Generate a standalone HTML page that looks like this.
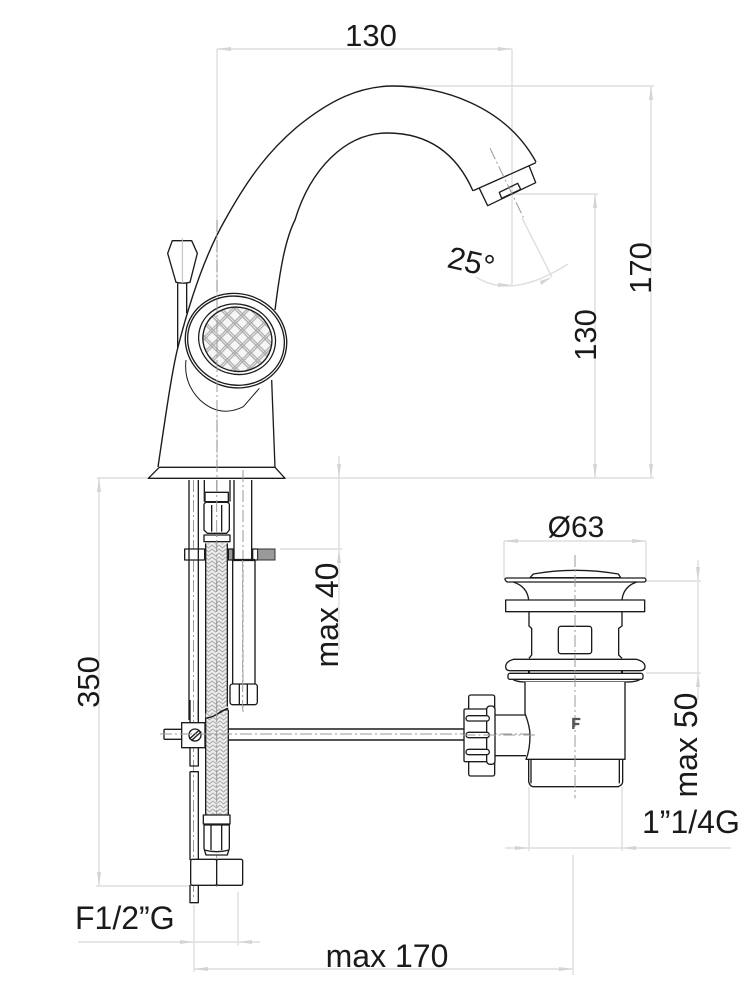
<!DOCTYPE html>
<html><head><meta charset="utf-8"><style>
html,body{margin:0;padding:0;background:#fff}
svg{display:block}
text{font-family:"Liberation Sans",sans-serif;font-size:32px;fill:#1a1a1a}
.d{stroke:#dedede;stroke-width:1.4;fill:none}
.a{fill:#d4d4d4;stroke:none}
.c{stroke:#999;stroke-width:1;fill:none;stroke-dasharray:12 3 2 3}
.k{stroke:#1c1c1c;stroke-width:1.4;fill:none}
.z{stroke:#1c1c1c;stroke-width:4;fill:none;stroke-linejoin:round}
.zw{stroke:#1c1c1c;stroke-width:4;fill:#fff;stroke-linejoin:round}
.zc{stroke:#999;stroke-width:3;fill:none;stroke-dasharray:36 9 6 9}
</style></head><body>
<svg width="753" height="1000" viewBox="0 0 753 1000" xmlns="http://www.w3.org/2000/svg">
<defs>
<pattern id="mesh" width="32" height="32" patternUnits="userSpaceOnUse" patternTransform="rotate(30)">
<rect width="32" height="32" fill="#f6f6f6"/>
<path d="M0 3H32M0 9H32M3 0V32M9 0V32" stroke="#aaa" stroke-width="3.5"/>
</pattern>
<pattern id="braid" width="21" height="24" patternUnits="userSpaceOnUse">
<rect width="21" height="24" fill="#efefef"/>
<path d="M0 3L10.500 12L21 3M0 15L10.500 24L21 15M0 -9L10.500 0L21 -9" stroke="#b0b0b0" stroke-width="3.500" fill="none"/>
</pattern>
</defs>

<!-- dimension lines -->
<path class="d" d="M217 49V478M217 49H512M512 49V285M393 86H654M651 86V478M512 194H598M595 194V478M97 478H654
M99 478V886M96 886H190M339 456V650M280 549H342
M504 541H646M504 541V578M646 541V578M646 581H701M646 673H701M698 560V673M698 673V700
M529 787V851M622 787V851M505 848H731M573 855V975M194 905V972M194 969H573M78 942H260M238 892V946"/>
<path class="d" d="M476 277Q512 300 568 264M522 218L552 277"/>
<polygon class="a" points="217,49 231,47 231,51"/><polygon class="a" points="512,49 498,47 498,51"/>
<polygon class="a" points="651,86 649,100 653,100"/><polygon class="a" points="651,478 649,464 653,464"/>
<polygon class="a" points="595,194 593,208 597,208"/><polygon class="a" points="595,478 593,464 597,464"/>
<polygon class="a" points="99,478 97,492 101,492"/><polygon class="a" points="99,886 97,872 101,872"/>
<polygon class="a" points="339,478 337,464 341,464"/><polygon class="a" points="339,549 337,563 341,563"/>
<polygon class="a" points="504,541 518,539 518,543"/><polygon class="a" points="646,541 632,539 632,543"/>
<polygon class="a" points="698,581 696,567 700,567"/><polygon class="a" points="698,673 696,687 700,687"/>
<polygon class="a" points="529,848 515,846 515,850"/><polygon class="a" points="622,848 636,846 636,850"/>
<polygon class="a" points="194,942 180,940 180,944"/><polygon class="a" points="238,942 252,940 252,944"/>
<polygon class="a" points="194,969 208,967 208,971"/><polygon class="a" points="573,969 559,967 559,971"/>
<polygon class="a" points="512,285 498,283 498,287"/><polygon class="a" points="552,277 540,281 541,285"/>

<!-- spout -->
<path class="k" d="M158 467C165 420 172 370 178 347C190 300 205 255 225 220C250 175 270 150 297 127C330 100 360 86 393 86C440 86 505 105 536 162"/>
<path class="k" d="M275 310C280 270 285 240 295 220C310 170 345 133 387 133C425 133 455 150 473 191"/>
<g transform="translate(420 120) scale(.33333)">
<path class="z" d="M160 212L348 128M178 205L203 257L347 188L327 137M238 217L245 235L302 208L293 190Z"/>
<path class="zc" d="M210 85L310 292"/>
</g>

<!-- faucet body -->
<g transform="translate(140 220) scale(.33333)">
<path class="z" d="M405 742L395 480"/>
<path class="zw" d="M58 742H405L435 775H25Z"/>
<path class="zw" d="M97 62H155L172 100L150 187Q130 192 108 187L83 100Z"/>
<path class="z" d="M113 190V385M140 190V280"/>
<path d="M138 420Q130 490 180 540Q240 595 310 560L358 505L300 440Z" fill="#fff"/>
<path class="z" style="stroke-width:3" d="M138 420Q130 490 180 540Q240 595 310 560L358 505"/>
<g transform="rotate(15 288 362)">
<ellipse class="zw" cx="288" cy="362" rx="153" ry="141"/>
<ellipse class="z" cx="288" cy="362" rx="146" ry="133"/>
<ellipse class="z" cx="290" cy="357" rx="116" ry="105"/>
<ellipse cx="291" cy="357" rx="104" ry="96" fill="url(#mesh)" stroke="#1c1c1c" stroke-width="4"/>
</g>
<path class="d" style="stroke-width:3;stroke:#bbb" d="M127 55V190"/>
</g>
<path class="c" d="M217 220V590M243 470V712M193.500 480V900"/>

<!-- upper plumbing -->
<g transform="translate(170 480) scale(.33333)">
<path class="z" d="M57 0V720M85 0V720M103 0V65M180 0V65M192 0V240M245 0V240"/>
<rect x="107" y="190" width="65" height="530" fill="url(#braid)"/>
<path class="z" d="M107 190V720M172 190V680"/>
<rect class="zw" x="105" y="37" width="70" height="28"/>
<path class="zw" d="M102 80Q100 65 115 67H170Q180 67 178 80V150L170 160H112L102 150Z"/>
<path class="z" d="M125 75V155M155 75V155M102 185V165H180V185H102Z"/>
<path class="zc" d="M140 0V720"/>
<rect class="zw" x="44" y="207" width="60" height="33"/>
<path class="z" d="M57 205V240M85 205V240"/>
<rect class="zw" x="175" y="207" width="14" height="33" style="fill:#999"/>
<rect class="zw" x="248" y="207" width="15" height="33"/>
<rect x="263" y="207" width="52" height="33" fill="#9a9a9a" stroke="#333" stroke-width="3"/>
<path d="M188 240H255" stroke="#1c1c1c" stroke-width="7"/>
<path class="z" d="M188 240V675M255 240V612"/>
<rect class="zw" x="180" y="612" width="82" height="62" rx="8"/>
<path class="z" d="M208 612V674M232 612V674"/>
<path class="zc" d="M218 240V690"/>
<path class="z" d="M105 718Q135 708 155 695Q165 687 175 685"/>
</g>

<!-- lower plumbing -->
<g transform="translate(150 700) scale(.33333)">
<path class="z" d="M120 0V68M145 0V68M120 143V198H145V143M120 215H145V480M120 215V480M120 555V608H145V555"/>
<rect x="167" y="40" width="68" height="306" fill="url(#braid)"/>
<path class="z" d="M167 55Q195 50 210 36Q222 28 235 30M167 55V345M235 30V345"/>
<path class="zc" d="M200 30V570"/>
<rect class="zw" x="42" y="88" width="60" height="30" rx="3"/>
<rect class="zw" x="95" y="68" width="70" height="75"/>
<circle class="zw" cx="135" cy="105" r="18"/>
<path class="z" d="M118 117L148 90M124 122L154 95"/>
<path class="zw" d="M160 345H240V372H160Z"/>
<path class="zw" d="M162 375H238V445L232 465H168L162 445Z"/>
<path class="z" d="M183 375V450M215 375V450M162 450Q200 460 238 450"/>
<rect class="zw" x="122" y="478" width="78" height="78" rx="5"/>
<rect class="zw" x="200" y="478" width="78" height="78" rx="5"/>
</g>

<!-- rod -->
<path class="k" d="M228 729H465M228 740H465"/>
<path class="c" d="M160 734H535"/>

<!-- drain -->
<g transform="translate(450 550) scale(.33333)">
<path class="zw" d="M240 83H512L505 72Q375 50 250 72Z"/>
<path class="zw" d="M165 87Q165 84 172 84H584Q592 90 584 96H172Q165 92 165 87Z"/>
<path class="z" d="M190 96Q232 110 236 150M560 96Q520 110 516 150"/>
<rect class="zw" x="167" y="150" width="417" height="35"/>
<path class="z" d="M237 185V228L245 235V315L237 325M516 185V228L506 235V315L516 325"/>
<rect class="z" x="325" y="229" width="100" height="82" rx="8"/>
<path class="zw" d="M190 328H560Q585 335 585 350Q585 362 570 362H180Q167 362 167 350Q167 335 190 328Z"/>
<path d="M237 362V370M516 362V370" stroke="#1c1c1c" stroke-width="6"/>
<rect class="zw" x="174" y="370" width="405" height="18" rx="6"/>
<path class="z" d="M188 388Q200 396 225 396H527Q560 396 570 388"/>
<path class="zw" d="M225 396V490Q240 530 240 555Q240 600 228 628H525V396"/>
<path class="z" d="M236 628V695Q240 710 250 710H505Q518 705 518 695V628M243 628V700M508 628V700"/>
<path class="z" d="M135 495H225M135 617H228"/>
<rect class="zw" x="56" y="435" width="78" height="243" rx="6"/>
<rect class="zw" x="42" y="477" width="72" height="158" rx="4"/>
<rect class="zw" x="110" y="468" width="25" height="175" rx="10"/>
<rect class="zw" x="48" y="497" width="70" height="16" rx="8"/>
<rect class="zw" x="48" y="547" width="70" height="16" rx="8"/>
<rect class="zw" x="48" y="598" width="70" height="16" rx="8"/>
<path class="zc" d="M375 15V745M40 555H255"/>
<path d="M370 537V507H391M370 522H388" stroke="#555" stroke-width="7" fill="none"/>
</g>

<!-- labels -->
<text x="371" y="46" text-anchor="middle" style="font-size:31px">130</text>
<text x="387" y="967" text-anchor="middle">max 170</text>
<text x="75" y="929">F1/2”G</text>
<text x="642" y="833">1”1/4G</text>
<text x="576" y="537" text-anchor="middle" style="font-size:30px">Ø63</text>
<text transform="translate(446 267) rotate(13)" style="font-size:31px">25°</text>
<text transform="translate(651 268) rotate(-90)" text-anchor="middle" style="font-size:31px">170</text>
<text transform="translate(596 335) rotate(-90)" text-anchor="middle" style="font-size:31px">130</text>
<text transform="translate(338 615) rotate(-90)" text-anchor="middle">max 40</text>
<text transform="translate(99 682) rotate(-90)" text-anchor="middle" style="font-size:31px">350</text>
<text transform="translate(697 745) rotate(-90)" text-anchor="middle">max 50</text>
</svg>
</body></html>
